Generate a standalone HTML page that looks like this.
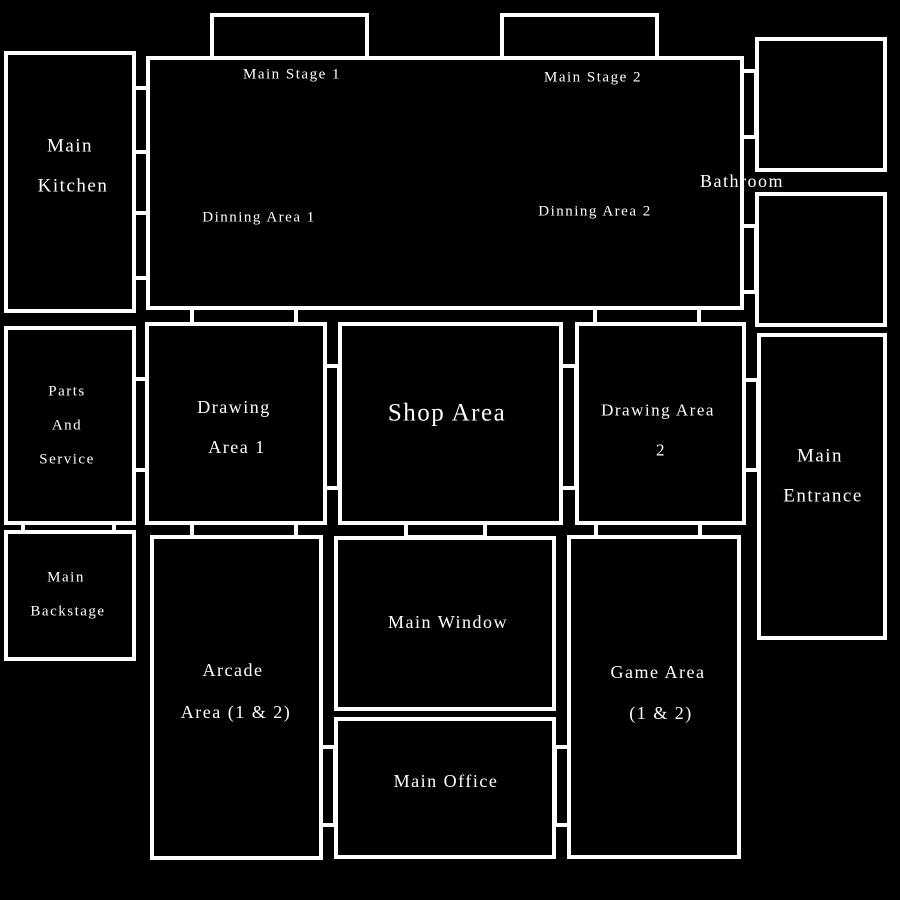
<!DOCTYPE html>
<html><head><meta charset="utf-8"><style>
html,body{margin:0;padding:0;background:#000;}
#c{position:relative;width:900px;height:900px;background:#000;overflow:hidden;}
.r{position:absolute;box-sizing:border-box;border:4px solid #fff;background:#000;}
.d{position:absolute;box-sizing:border-box;border:4px solid #fff;background:#000;}
.t{position:absolute;transform:translate(-50%,-50%);color:#fff;white-space:nowrap;font-family:"Liberation Serif",serif;letter-spacing:1.5px;line-height:1;}
</style></head><body><div id="c">
<!-- connectors -->
<div class="d" style="left:132px;top:86px;width:18px;height:68px"></div>
<div class="d" style="left:132px;top:150px;width:18px;height:65px"></div>
<div class="d" style="left:132px;top:211px;width:18px;height:69px"></div>
<div class="d" style="left:740px;top:69px;width:18px;height:70px"></div>
<div class="d" style="left:740px;top:224px;width:18px;height:70px"></div>
<div class="d" style="left:190px;top:304px;width:108px;height:24px"></div>
<div class="d" style="left:593px;top:304px;width:108px;height:24px"></div>
<div class="d" style="left:132px;top:377px;width:18px;height:95px"></div>
<div class="d" style="left:321px;top:364px;width:20px;height:126px"></div>
<div class="d" style="left:557px;top:364px;width:21px;height:126px"></div>
<div class="d" style="left:742px;top:378px;width:18px;height:94px"></div>
<div class="d" style="left:21px;top:520px;width:95px;height:14px"></div>
<div class="d" style="left:190px;top:520px;width:108px;height:19px"></div>
<div class="d" style="left:404px;top:520px;width:83px;height:19px"></div>
<div class="d" style="left:594px;top:520px;width:108px;height:19px"></div>
<div class="d" style="left:319px;top:745px;width:18px;height:82px"></div>
<div class="d" style="left:553px;top:745px;width:18px;height:82px"></div>
<!-- rooms -->
<div class="r" style="left:210px;top:13px;width:159px;height:47px"></div>
<div class="r" style="left:500px;top:13px;width:159px;height:47px"></div>
<div class="r" style="left:4px;top:51px;width:132px;height:262px"></div>
<div class="r" style="left:146px;top:56px;width:598px;height:254px"></div>
<div class="r" style="left:755px;top:37px;width:132px;height:135px"></div>
<div class="r" style="left:755px;top:192px;width:132px;height:135px"></div>
<div class="r" style="left:4px;top:326px;width:132px;height:199px"></div>
<div class="r" style="left:4px;top:530px;width:132px;height:131px"></div>
<div class="r" style="left:145px;top:322px;width:182px;height:203px"></div>
<div class="r" style="left:338px;top:322px;width:225px;height:203px"></div>
<div class="r" style="left:575px;top:322px;width:171px;height:203px"></div>
<div class="r" style="left:757px;top:333px;width:130px;height:307px"></div>
<div class="r" style="left:150px;top:535px;width:173px;height:325px"></div>
<div class="r" style="left:334px;top:536px;width:222px;height:175px"></div>
<div class="r" style="left:334px;top:717px;width:222px;height:142px"></div>
<div class="r" style="left:567px;top:535px;width:174px;height:324px"></div>
<!-- labels -->
<div class="t" style="left:292px;top:75px;font-size:15px">Main Stage 1</div>
<div class="t" style="left:593px;top:78px;font-size:15px">Main Stage 2</div>
<div class="t" style="left:259px;top:218px;font-size:15px">Dinning Area 1</div>
<div class="t" style="left:595px;top:212px;font-size:15px">Dinning Area 2</div>
<div class="t" style="left:742px;top:181px;font-size:18px">Bathroom</div>
<div class="t" style="left:70px;top:146px;font-size:19px">Main</div>
<div class="t" style="left:73px;top:186px;font-size:19px">Kitchen</div>
<div class="t" style="left:67px;top:392px;font-size:15px">Parts</div>
<div class="t" style="left:67px;top:426px;font-size:15px">And</div>
<div class="t" style="left:67px;top:460px;font-size:15px">Service</div>
<div class="t" style="left:234px;top:407px;font-size:18px">Drawing</div>
<div class="t" style="left:237px;top:447px;font-size:18px">Area 1</div>
<div class="t" style="left:447px;top:413px;font-size:25px">Shop Area</div>
<div class="t" style="left:658px;top:410px;font-size:17px">Drawing Area</div>
<div class="t" style="left:661px;top:450px;font-size:17px">2</div>
<div class="t" style="left:820px;top:456px;font-size:19px">Main</div>
<div class="t" style="left:823px;top:496px;font-size:19px">Entrance</div>
<div class="t" style="left:66px;top:578px;font-size:15px">Main</div>
<div class="t" style="left:68px;top:612px;font-size:15px">Backstage</div>
<div class="t" style="left:233px;top:670px;font-size:18px">Arcade</div>
<div class="t" style="left:236px;top:712px;font-size:18px">Area (1 &amp; 2)</div>
<div class="t" style="left:448px;top:622px;font-size:18px">Main Window</div>
<div class="t" style="left:446px;top:781px;font-size:18px">Main Office</div>
<div class="t" style="left:658px;top:672px;font-size:18px">Game Area</div>
<div class="t" style="left:661px;top:713px;font-size:18px">(1 &amp; 2)</div>
</div></body></html>
